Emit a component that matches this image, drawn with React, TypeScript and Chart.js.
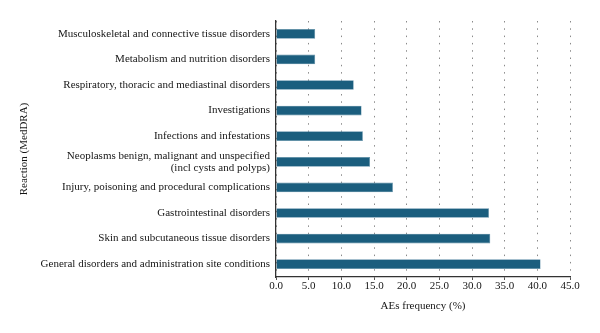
import React, { useEffect, useRef } from "react";
import { Chart, registerables } from "chart.js";

Chart.register(...registerables);

const categories: (string | string[])[] = [
  "Musculoskeletal and connective tissue disorders",
  "Metabolism and nutrition disorders",
  "Respiratory, thoracic and mediastinal disorders",
  "Investigations",
  "Infections and infestations",
  ["Neoplasms benign, malignant and unspecified", "(incl cysts and polyps)"],
  "Injury, poisoning and procedural complications",
  "Gastrointestinal disorders",
  "Skin and subcutaneous tissue disorders",
  "General disorders and administration site conditions",
];

const frequencies: number[] = [6.0, 6.0, 11.9, 13.1, 13.3, 14.4, 17.9, 32.6, 32.8, 40.5];

const xTickMin = 0;
const xTickMax = 45;
const xTickStep = 5;

const xTitle = "AEs frequency (%)";
const yTitle = "Reaction (MedDRA)";

const FONT = "'Liberation Serif', 'Times New Roman', serif";
const TEXT = "#151515";

export default function App() {
  const ref = useRef<HTMLCanvasElement | null>(null);

  useEffect(() => {
    if (!ref.current) return;
    const chart = new Chart(ref.current, {
      type: "bar",
      data: {
        labels: categories,
        datasets: [
          {
            data: frequencies,
            backgroundColor: "#1b5e7e",
            borderColor: "#5f8fa8",
            borderWidth: 0.6,
            categoryPercentage: 1,
            barPercentage: 0.38,
          },
        ],
      },
      options: {
        indexAxis: "y",
        animation: false,
        responsive: true,
        maintainAspectRatio: false,
        layout: { padding: { top: 21, right: 30, bottom: 0, left: 0 } },
        plugins: {
          legend: { display: false },
          tooltip: { enabled: false },
        },
        scales: {
          x: {
            min: xTickMin,
            max: xTickMax,
            afterFit: (scale: any) => {
              scale.height = 56;
            },
            ticks: {
              stepSize: xTickStep,
              callback: (v: any) => Number(v).toFixed(1),
              color: TEXT,
              font: { family: FONT, size: 11 },
              padding: 0,
              maxRotation: 0,
              autoSkip: false,
            },
            grid: {
              color: "#8a8a8a",
              lineWidth: 1,
              tickLength: 3,
              tickColor: "#555",
              tickBorderDash: [],
              drawTicks: true,
            },
            border: { display: true, color: "#333", width: 1.3, dash: [1.5, 5.8] },
            title: {
              display: true,
              text: xTitle,
              color: TEXT,
              font: { family: FONT, size: 11 },
              padding: { top: 4, bottom: 20 },
            },
          },
          y: {
            afterFit: (scale: any) => {
              scale.width = 276;
            },
            ticks: {
              color: TEXT,
              font: { family: FONT, size: 11, lineHeight: 1.12 },
              padding: 6,
              autoSkip: false,
            },
            grid: {
              display: true,
              color: "rgba(0,0,0,0)",
              drawTicks: false,
            },
            border: { display: true, color: "#333", width: 1.3 },
            title: {
              display: true,
              text: yTitle,
              color: TEXT,
              font: { family: FONT, size: 11 },
              padding: { top: 18, bottom: 4 },
            },
          },
        },
      },
    });
    return () => chart.destroy();
  }, []);

  return (
    <div style={{ position: "absolute", left: 0, top: 0, width: 600, height: 333, background: "#fff" }}>
      <canvas ref={ref} />
    </div>
  );
}
